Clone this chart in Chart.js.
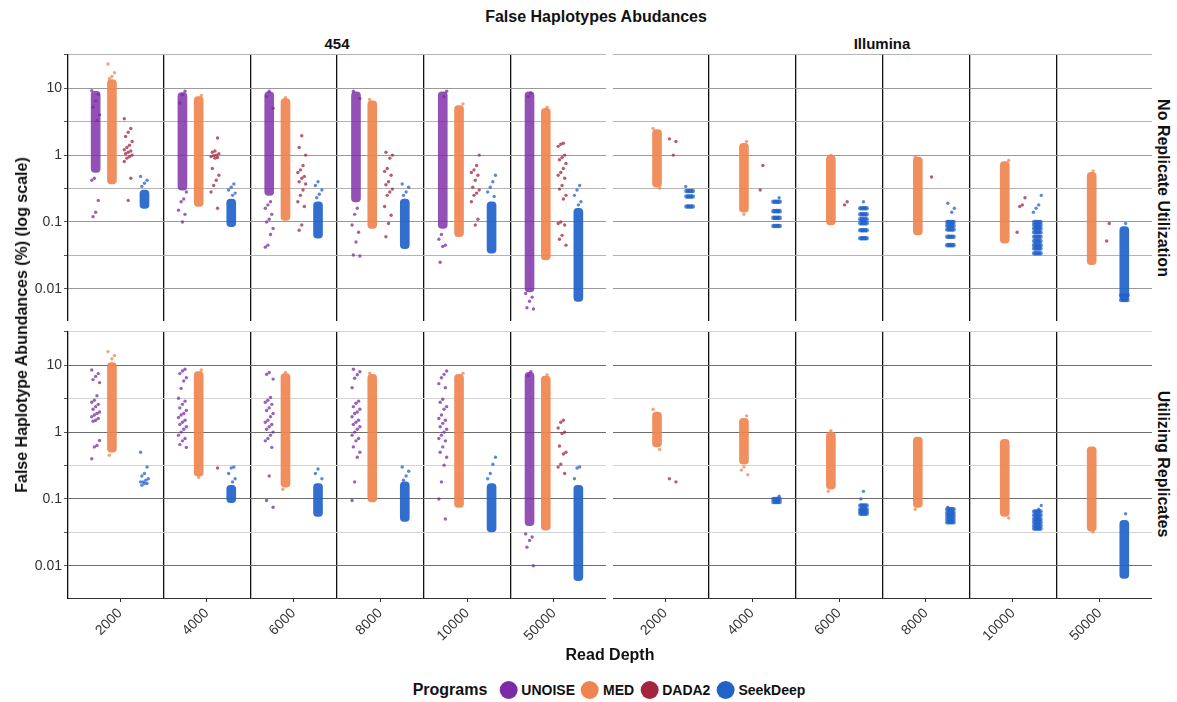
<!DOCTYPE html>
<html>
<head>
<meta charset="utf-8">
<script src="https://cdn.jsdelivr.net/npm/chart.js@4.4.1/dist/chart.umd.min.js"></script>
<style>
  body { margin: 0; background: #fff; font-family: "Liberation Sans", Arial, sans-serif; }
  #wrap { position: relative; width: 1177px; height: 702px; overflow: hidden; background: #fff; }
  canvas { position: absolute; }
  .lbl { position: absolute; font-weight: bold; color: #111; white-space: nowrap; transform: translate(-50%, -50%); }
  .rot-l { transform: translate(-50%, -50%) rotate(-90deg); }
  .rot-r { transform: translate(-50%, -50%) rotate(90deg); }
  #legend { position: absolute; left: 610px; top: 690px; transform: translate(-50%, -50%); display: flex; align-items: center; font-weight: bold; font-size: 14px; color: #111; white-space: nowrap; }
  #legend .ttl { font-size: 16px; margin-right: 8px; }
  #legend .dot { width: 18px; height: 18px; border-radius: 50%; margin: 0 4px 0 4px; }
  #legend .nm { margin-right: 2px; }
</style>
</head>
<body>
<div id="wrap">
  <canvas id="c_nr454" width="606" height="267" style="left:0;top:54px"></canvas>
  <canvas id="c_nrIll" width="539" height="267" style="left:613px;top:54px"></canvas>
  <canvas id="c_ur454" width="606" height="317" style="left:0;top:331px"></canvas>
  <canvas id="c_urIll" width="539" height="317" style="left:613px;top:331px"></canvas>

  <div class="lbl" style="left:596px;top:17px;font-size:16px">False Haplotypes Abudances</div>
  <div class="lbl" style="left:337px;top:43px;font-size:15px">454</div>
  <div class="lbl" style="left:882px;top:43px;font-size:15px">Illumina</div>
  <div class="lbl rot-r" style="left:1163px;top:188px;font-size:16px">No Replicate Utilization</div>
  <div class="lbl rot-r" style="left:1163px;top:464px;font-size:16px">Utilizing Replicates</div>
  <div class="lbl rot-l" style="left:22px;top:325px;font-size:16px">False Haplotype Abundances (%) (log scale)</div>
  <div class="lbl" style="left:610px;top:655px;font-size:16px">Read Depth</div>
  <div id="legend"></div>
</div>
<script>
const depths = ['2000', '4000', '6000', '8000', '10000', '50000'];
const programs = ['UNOISE', 'MED', 'DADA2', 'SeekDeep'];
const programColors = ['#7b2ba6', '#f0844f', '#a3243f', '#2162c9'];
const yTicks = [0.01, 0.0316, 0.1, 0.316, 1, 3.16, 10, 31.6];
const yMajor = [0.01, 0.1, 1, 10];

const none6 = [null, null, null, null, null, null];
const empty6 = [[], [], [], [], [], []];

// ---- No replicate utilization, 454 ----
const unoiseCoreNr454 = [[0.55, 9], [0.3, 8.6], [0.25, 8.8], [0.2, 8.8], [0.08, 8.8], [0.009, 8.8]];
const unoisePtsNr454 = [
  [9.2, 8.1, 6.5, 5.2, 4, 3.3, 0.45, 0.42, 0.21, 0.14, 0.12],
  [9, 8, 6, 0.28, 0.22, 0.2, 0.15, 0.13, 0.1],
  [9, 7.5, 5, 0.2, 0.18, 0.16, 0.13, 0.11, 0.1, 0.08, 0.065, 0.045, 0.042],
  [9, 7, 0.16, 0.13, 0.09, 0.07, 0.05, 0.032, 0.031],
  [9, 7.5, 0.065, 0.055, 0.045, 0.043, 0.025],
  [8.5, 7.5, 0.0085, 0.0075, 0.0065, 0.0052, 0.005]
];
const medCoreNr454 = [[0.37, 13.5], [0.17, 7.5], [0.105, 7], [0.08, 6.5], [0.06, 5.5], [0.027, 5]];
const medPtsNr454 = [[23, 17, 15, 14], [7.8], [7.2], [6.8], [5.8], [5.2]];
const dadaPtsNr454 = [
  [3.5, 2.5, 2.2, 1.9, 1.6, 1.4, 1.3, 1.2, 1.15, 1.1, 1.05, 1.0, 0.95, 0.9, 0.8, 0.45, 0.21],
  [1.8, 1.15, 1.1, 1.05, 1.0, 0.98, 0.95, 0.92, 0.9, 0.63, 0.5, 0.42, 0.35, 0.28, 0.16],
  [1.95, 1.3, 1.0, 0.7, 0.6, 0.55, 0.48, 0.45, 0.4, 0.37, 0.3, 0.25, 0.2, 0.17, 0.09, 0.075],
  [1.1, 1.0, 0.9, 0.63, 0.57, 0.5, 0.4, 0.36, 0.31, 0.28, 0.25, 0.17, 0.126, 0.095, 0.06],
  [1.0, 0.7, 0.6, 0.55, 0.5, 0.42, 0.33, 0.3, 0.27, 0.25, 0.2, 0.11, 0.09],
  [1.5, 1.45, 1.35, 1.0, 0.92, 0.85, 0.75, 0.63, 0.55, 0.5, 0.45, 0.35, 0.31, 0.25, 0.22, 0.1, 0.095, 0.09, 0.063, 0.055, 0.045]
];
const seekCoreNr454 = [[0.16, 0.3], [0.085, 0.22], [0.057, 0.2], [0.04, 0.22], [0.034, 0.2], [0.0065, 0.16]];
const seekPtsNr454 = [
  [0.48, 0.42, 0.38, 0.34], [0.37, 0.33, 0.3, 0.27, 0.25], [0.4, 0.35, 0.3, 0.26, 0.23],
  [0.37, 0.33, 0.28, 0.25], [0.5, 0.4, 0.33, 0.28, 0.24], [0.35, 0.3, 0.25, 0.2, 0.18]
];

// ---- No replicate utilization, Illumina ----
const medCoreNrIll = [[0.33, 2.4], [0.14, 1.5], [0.09, 0.98], [0.064, 0.93], [0.048, 0.8], [0.023, 0.55]];
const medPtsNrIll = [[2.5, 0.32], [1.6, 0.13], [1.0], [0.95], [0.83], [0.58]];
const dadaPtsNrIll = [[1.75, 1.6, 1.0], [0.7, 0.3], [0.2, 0.18], [0.47], [0.23, 0.18, 0.17, 0.07], [0.095, 0.052]];
const seekCoreNrIll = [null, null, null, null, null, [0.0068, 0.085]];
const seekLevelsNrIll = [
  [0.29, 0.24, 0.17], [0.2, 0.145, 0.115, 0.087], [0.16, 0.13, 0.11, 0.096, 0.075, 0.057],
  [0.1, 0.088, 0.077, 0.06, 0.045], [0.1, 0.09, 0.08, 0.07, 0.06, 0.052, 0.045, 0.04, 0.034], [0.008, 0.0068]
];
const seekPtsNrIll = [[0.34], [0.23], [0.2], [0.19, 0.16, 0.14], [0.25, 0.18, 0.16, 0.14], [0.095]];

// ---- Utilizing replicates, 454 ----
const unoiseCoreUr454 = [null, null, null, null, null, [0.04, 7.8]];
const unoisePtsUr454 = [
  [8.5, 7.5, 6.8, 6.1, 5.5, 3.5, 3.0, 2.8, 2.6, 2.4, 2.2, 2.0, 1.9, 1.8, 1.7, 1.6, 1.5, 1.45, 0.75, 0.63, 0.6, 0.4],
  [8.7, 8.2, 7.5, 6.5, 5.8, 4.5, 3.2, 2.9, 2.6, 2.3, 2.1, 1.9, 1.8, 1.65, 1.5, 1.4, 1.3, 1.2, 1.1, 1.0, 0.9, 0.8, 0.74, 0.65, 0.59],
  [7.8, 7.3, 6.2, 3.3, 3.0, 2.8, 2.6, 2.3, 2.1, 1.9, 1.7, 1.5, 1.4, 1.3, 1.2, 1.1, 1.0, 0.9, 0.8, 0.74, 0.59, 0.22, 0.095, 0.075],
  [8.7, 8.0, 7.2, 6.4, 4.6, 2.9, 2.7, 2.4, 2.2, 2.0, 1.9, 1.7, 1.5, 1.4, 1.3, 1.2, 1.1, 1.0, 0.9, 0.8, 0.74, 0.6, 0.5, 0.42, 0.18, 0.095],
  [8.2, 7.3, 6.5, 5.3, 4.6, 3.1, 2.8, 2.4, 2.2, 1.8, 1.6, 1.5, 1.35, 1.2, 1.1, 1.0, 0.9, 0.8, 0.74, 0.6, 0.5, 0.42, 0.32, 0.18, 0.1, 0.05],
  [8.0, 7.0, 0.03, 0.027, 0.024, 0.019, 0.01]
];
const medCoreUr454 = [[0.5, 11], [0.22, 8], [0.15, 7.5], [0.09, 7.3], [0.075, 7.3], [0.034, 6.9]];
const medPtsUr454 = [[16, 14, 12.5, 0.45], [8.5, 0.21], [7.8, 0.14], [7.6], [7.6], [7.2]];
const dadaPtsUr454 = [[], [0.29], [], [], [], [1.5, 1.4, 1.15, 1.0, 0.95, 0.62, 0.5, 0.47, 0.33, 0.3, 0.24]];
const seekCoreUr454 = [null, [0.088, 0.16], [0.055, 0.17], [0.046, 0.18], [0.032, 0.17], [0.006, 0.16]];
const seekPtsUr454 = [
  [0.5, 0.3, 0.24, 0.22, 0.2, 0.19, 0.18, 0.18, 0.17, 0.17, 0.16],
  [0.3, 0.29, 0.24, 0.2, 0.18], [0.28, 0.24, 0.2], [0.3, 0.26, 0.22, 0.19],
  [0.42, 0.33, 0.24, 0.2], [0.3, 0.29, 0.2]
];

// ---- Utilizing replicates, Illumina ----
const medCoreUrIll = [[0.6, 2.0], [0.33, 1.6], [0.14, 1.0], [0.075, 0.84], [0.055, 0.78], [0.033, 0.6]];
const medPtsUrIll = [[2.2, 0.55], [1.75, 0.3, 0.27, 0.23], [1.05, 0.13], [0.07], [0.052], [0.032]];
const dadaPtsUrIll = [[0.2, 0.18], [], [], [], [], []];
const seekCoreUrIll = [null, null, null, null, null, [0.0065, 0.048]];
const seekLevelsUrIll = [[], [0.1, 0.09], [0.08, 0.07, 0.065, 0.06], [0.07, 0.062, 0.056, 0.05, 0.045], [0.065, 0.057, 0.05, 0.045, 0.04, 0.036], []];
const seekPtsUrIll = [[], [0.11], [0.13, 0.1], [0.075], [0.08, 0.07], [0.06]];

const facets = {
  nr454: { core: [unoiseCoreNr454, medCoreNr454, none6, seekCoreNr454], pts: [unoisePtsNr454, medPtsNr454, dadaPtsNr454, seekPtsNr454], lvl: [empty6, empty6, empty6, empty6] },
  nrIll: { core: [none6, medCoreNrIll, none6, seekCoreNrIll], pts: [empty6, medPtsNrIll, dadaPtsNrIll, seekPtsNrIll], lvl: [empty6, empty6, empty6, seekLevelsNrIll] },
  ur454: { core: [unoiseCoreUr454, medCoreUr454, none6, seekCoreUr454], pts: [unoisePtsUr454, medPtsUr454, dadaPtsUr454, seekPtsUr454], lvl: [empty6, empty6, empty6, empty6] },
  urIll: { core: [none6, medCoreUrIll, none6, seekCoreUrIll], pts: [empty6, medPtsUrIll, dadaPtsUrIll, seekPtsUrIll], lvl: [empty6, empty6, empty6, seekLevelsUrIll] }
};

// dodge positions of the 4 programs inside one read depth slot
const dodge = [-0.28125, -0.09375, 0.09375, 0.28125];
function jit(i) { return (((i * 5) % 7) - 3) / 3 * 0.045; }

function hexA(hex, a) {
  const n = parseInt(hex.slice(1), 16);
  return `rgba(${(n >> 16) & 255},${(n >> 8) & 255},${n & 255},${a})`;
}

function buildDatasets(f) {
  const ds = [];
  programs.forEach((name, p) => {
    const bars = [];
    const pts = [];
    for (let d = 0; d < depths.length; d++) {
      const cx = d + 1 + dodge[p];
      const c = f.core[p][d];
      if (c) bars.push({ x: cx, y: c });
      f.pts[p][d].forEach((v, i) => pts.push({ x: cx + jit(i + d), y: v, r: 1.7 }));
      f.lvl[p][d].forEach(v => {
        for (let k = 0; k < 5; k++) pts.push({ x: cx + (k - 2) * 0.018, y: v, r: 2.3 });
      });
    }
    ds.push({
      type: 'bar', label: name, data: bars, xAxisID: 'x', yAxisID: 'y',
      backgroundColor: hexA(programColors[p], p === 0 ? 0.82 : 0.92), barThickness: 9,
      borderRadius: 4, borderSkipped: false, grouped: false, order: 2
    });
    ds.push({
      type: 'scatter', label: name, data: pts, xAxisID: 'x', yAxisID: 'y',
      backgroundColor: hexA(programColors[p], 0.75), borderWidth: 0,
      pointRadius: ctx => (ctx.raw && ctx.raw.r) || 1.7, order: 1
    });
  });
  return ds;
}

function noPad(s) {
  s.paddingTop = 0; s.paddingBottom = 0; s.paddingLeft = 0; s.paddingRight = 0;
}

function makeChart(id, facet, left, bottom) {
  const row1 = !bottom;
  return new Chart(document.getElementById(id), {
    type: 'scatter',
    data: { datasets: buildDatasets(facets[facet]) },
    options: {
      responsive: false,
      animation: false,
      events: [],
      layout: { padding: 0, autoPadding: false },
      plugins: { legend: { display: false }, tooltip: { enabled: false } },
      scales: {
        x: {
          type: 'linear', min: 0.4, max: 6.6, offset: false, display: bottom,
          afterBuildTicks: s => { s.ticks = depths.map((_, i) => ({ value: i + 1 })); },
          afterFit: s => { s.height = bottom ? 50 : 0; noPad(s); },
          grid: { offset: false, drawOnChartArea: false, drawTicks: true, tickLength: 4, tickColor: '#333' },
          border: { display: true, color: '#333', width: 1 },
          ticks: {
            autoSkip: false, minRotation: 45, maxRotation: 45, padding: 3,
            color: '#333', font: { size: 14, family: '"Liberation Sans", Arial, sans-serif' },
            callback: v => depths[Math.round(v) - 1]
          }
        },
        sep: {
          type: 'linear', position: 'top', min: 0.4, max: 6.6, offset: false,
          afterBuildTicks: s => { s.ticks = [1.5, 2.5, 3.5, 4.5, 5.5].map(v => ({ value: v })); },
          afterFit: s => { s.height = 0; noPad(s); },
          grid: { offset: false, color: '#111', lineWidth: 1.3, drawTicks: false },
          border: { display: false },
          ticks: { display: false }
        },
        y: {
          type: 'logarithmic', min: 0.0033, max: 32.5,
          afterBuildTicks: s => { s.ticks = yTicks.map(v => ({ value: v })); },
          afterFit: s => { s.width = left ? 68 : 0; noPad(s); },
          grid: {
            drawTicks: left, tickLength: 4, tickColor: '#555', lineWidth: 1,
            color: ctx => {
              const major = yMajor.includes(ctx.tick.value);
              if (row1) return major ? '#9a9a9a' : '#b4b4b4';
              return major ? '#6e6e6e' : '#d4d4d4';
            }
          },
          border: { display: left, color: '#111', width: 1.3 },
          ticks: {
            display: left, padding: 2, color: '#333',
            font: { size: 14, family: '"Liberation Sans", Arial, sans-serif' },
            callback: v => yMajor.includes(v) ? String(v) : ''
          }
        }
      }
    }
  });
}

makeChart('c_nr454', 'nr454', true, false);
makeChart('c_nrIll', 'nrIll', false, false);
makeChart('c_ur454', 'ur454', true, true);
makeChart('c_urIll', 'urIll', false, true);

// legend in HTML
const lg = document.getElementById('legend');
lg.innerHTML = '<span class="ttl">Programs</span>' + programs.map((p, i) =>
  `<span class="dot" style="background:${programColors[i]}"></span><span class="nm">${p}</span>`).join('');
</script>
</body>
</html>
